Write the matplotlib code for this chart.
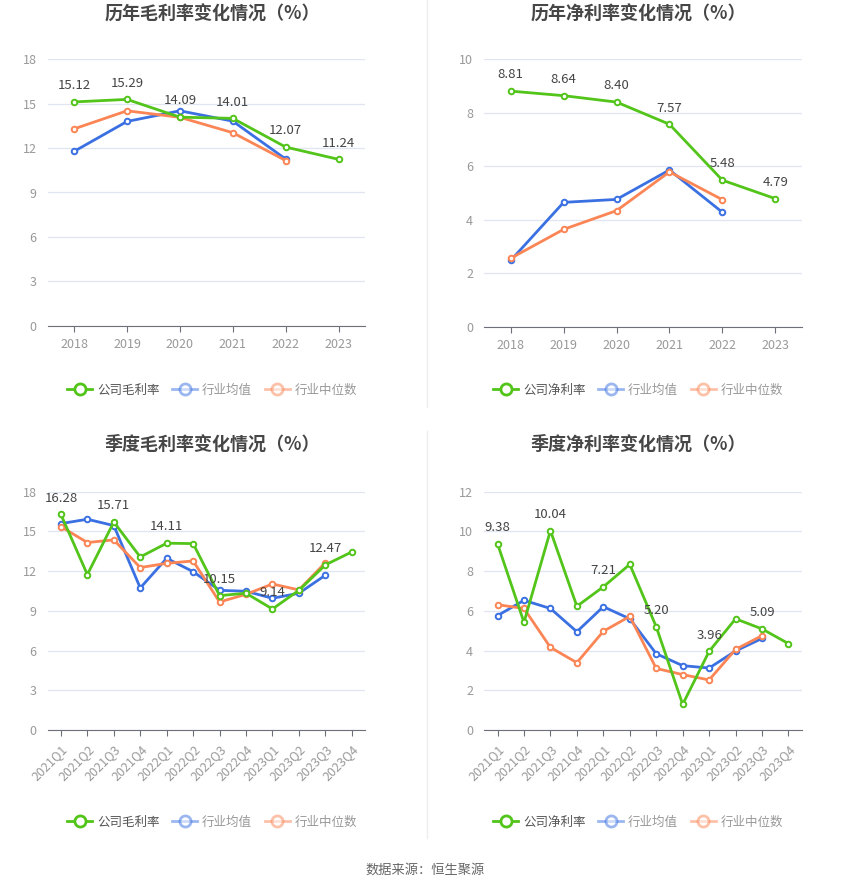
import numpy as np
import matplotlib
matplotlib.use('Agg')
import matplotlib.pyplot as plt
from matplotlib.lines import Line2D

plt.rcParams['font.family'] = ['Noto Sans CJK SC', 'DejaVu Sans']

# annual data
years = ['2018', '2019', '2020', '2021', '2022', '2023']
gross_company = [15.12, 15.29, 14.09, 14.01, 12.07, 11.24]
gross_mean = [11.78, 13.80, 14.52, 13.82, 11.26]
gross_median = [13.30, 14.52, 14.08, 13.04, 11.16]

net_company = [8.81, 8.64, 8.40, 7.57, 5.48, 4.79]
net_mean = [2.48, 4.65, 4.76, 5.86, 4.28]
net_median = [2.56, 3.64, 4.34, 5.79, 4.75]

# quarterly data
quarters = ['2021Q1', '2021Q2', '2021Q3', '2021Q4', '2022Q1', '2022Q2',
            '2022Q3', '2022Q4', '2023Q1', '2023Q2', '2023Q3', '2023Q4']
q_gross_company = [16.28, 11.74, 15.71, 13.07, 14.11, 14.08, 10.15, 10.33, 9.14, 10.55, 12.47, 13.45]
q_gross_mean = [15.59, 15.92, 15.44, 10.73, 12.97, 11.96, 10.55, 10.48, 9.95, 10.33, 11.69]
q_gross_median = [15.36, 14.16, 14.36, 12.27, 12.59, 12.77, 9.67, 10.25, 11.03, 10.58, 12.64]

q_net_company = [9.38, 5.42, 10.04, 6.23, 7.21, 8.34, 5.20, 1.29, 3.96, 5.60, 5.09, 4.35]
q_net_mean = [5.76, 6.53, 6.12, 4.95, 6.21, 5.60, 3.84, 3.24, 3.12, 3.98, 4.61]
q_net_median = [6.31, 6.12, 4.16, 3.39, 4.97, 5.72, 3.10, 2.79, 2.52, 4.06, 4.75]

GREEN = '#52c41a'
BLUE = '#3a70e2'
ORANGE = '#fb8555'
GRID = '#e0e6f1'
AXIS = '#6e7079'
TICK = '#999999'

W, H = 850, 891
fig = plt.figure(figsize=(W / 100, H / 100), dpi=100)


def px_axes(x0, x1, ytop, ybot):
    return fig.add_axes([x0 / W, 1 - ybot / H, (x1 - x0) / W, (ybot - ytop) / H])


def draw(ax, cats, company, mean, median, ymax, step, title, comp_name,
         label_every, rotate, title_y, legend_y, cx):
    x = np.arange(len(cats))
    for vals, col in ((mean, BLUE), (median, ORANGE), (company, GREEN)):
        xs = x[:len(vals)]
        ax.plot(xs, vals, color=col, lw=2, marker='o', ms=4,
                mfc='white', mec=col, mew=1.4, zorder=3, clip_on=False)
    for i, v in enumerate(company):
        if i % label_every == 0:
            ax.annotate(f'{v:.2f}', (x[i], v), xytext=(0, 7),
                        textcoords='offset points', ha='center', va='bottom',
                        fontsize=9.5, color='#444444', zorder=5)
    ax.set_xlim(-0.5, len(cats) - 0.5)
    ax.set_ylim(0, ymax)
    ax.set_yticks(np.arange(0, ymax + 0.01, step))
    ax.yaxis.set_major_formatter(matplotlib.ticker.FormatStrFormatter('%g'))
    ax.set_xticks(x)
    if rotate:
        ax.set_xticklabels(cats, rotation=45, ha='right', rotation_mode='anchor')
    else:
        ax.set_xticklabels(cats)
    ax.grid(axis='y', color=GRID, lw=0.9)
    ax.set_axisbelow(True)
    for s in ('top', 'right', 'left'):
        ax.spines[s].set_visible(False)
    ax.spines['bottom'].set_color(AXIS)
    ax.tick_params(axis='y', length=0, labelsize=9, labelcolor=TICK, pad=8)
    ax.tick_params(axis='x', length=4, color=AXIS, labelsize=9,
                   labelcolor=TICK, pad=5)
    fig.text(cx / W, 1 - title_y / H, title, ha='center', va='center',
             fontsize=13, fontweight='bold', color='#464646')
    handles = [
        Line2D([0], [0], color=GREEN, lw=2, marker='o', ms=8, mfc='white', mec=GREEN, mew=2),
        Line2D([0], [0], color=BLUE, lw=2, marker='o', ms=8, mfc='white', mec=BLUE, mew=2, alpha=0.5),
        Line2D([0], [0], color=ORANGE, lw=2, marker='o', ms=8, mfc='white', mec=ORANGE, mew=2, alpha=0.5),
    ]
    leg = fig.legend(handles, [comp_name, '行业均值', '行业中位数'],
                     loc='center', bbox_to_anchor=(cx / W, 1 - legend_y / H),
                     ncol=3, frameon=False, fontsize=9, handlelength=2.0,
                     handletextpad=0.4, columnspacing=1.0)
    cols = ['#555555', '#999999', '#999999']
    for t, c in zip(leg.get_texts(), cols):
        t.set_color(c)


ax1 = px_axes(47.7, 365, 59.3, 325.7)
draw(ax1, years, gross_company, gross_mean, gross_median, 18, 3,
     '历年毛利率变化情况（%）', '公司毛利率', 1, False, 14, 390, 212)

ax2 = px_axes(484.3, 801.7, 59.3, 326.7)
draw(ax2, years, net_company, net_mean, net_median, 10, 2,
     '历年净利率变化情况（%）', '公司净利率', 1, False, 14, 390, 638)

ax3 = px_axes(47.7, 365, 491.7, 730)
draw(ax3, quarters, q_gross_company, q_gross_mean, q_gross_median, 18, 3,
     '季度毛利率变化情况（%）', '公司毛利率', 2, True, 444, 822, 212)

ax4 = px_axes(484.3, 801.7, 491.7, 730)
draw(ax4, quarters, q_net_company, q_net_mean, q_net_median, 12, 2,
     '季度净利率变化情况（%）', '公司净利率', 2, True, 444, 822, 638)

# faint dividers
fig.add_artist(Line2D([427 / W, 427 / W], [1 - 0 / H, 1 - 407 / H], color='#eeeeee', lw=1))
fig.add_artist(Line2D([427 / W, 427 / W], [1 - 431 / H, 1 - 838 / H], color='#eeeeee', lw=1))

fig.text(425 / W, 1 - 870 / H, '数据来源：恒生聚源', ha='center', va='center',
         fontsize=9.5, color='#666666')

fig.savefig('out.png', dpi=100, facecolor='white')
